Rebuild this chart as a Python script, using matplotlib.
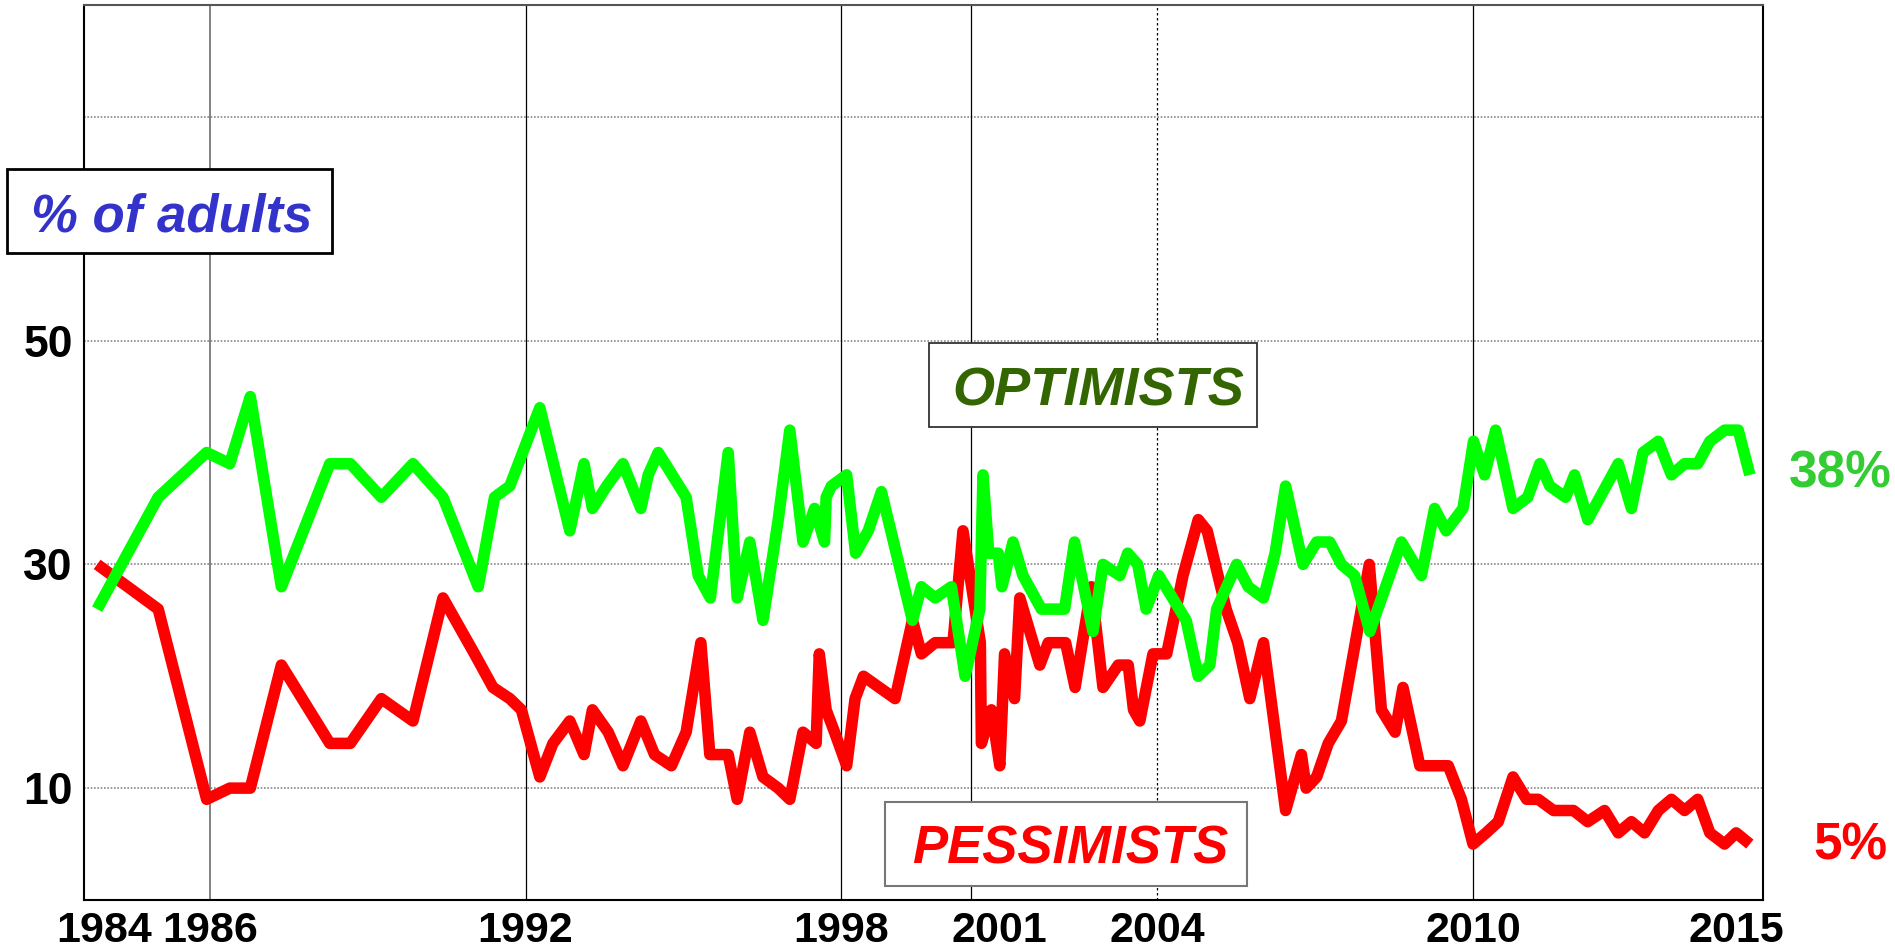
import numpy as np
import matplotlib
matplotlib.use("Agg")
import matplotlib.pyplot as plt
from matplotlib.patches import Rectangle

plt.rcParams["font.family"] = ["Liberation Sans", "DejaVu Sans"]

# survey dates (decimal years) and % of adults
opt_year = [1983.86, 1985.02, 1985.94, 1986.38, 1986.77, 1987.36, 1988.28, 1988.67,
            1989.26, 1989.86, 1990.43, 1991.10, 1991.41, 1991.70, 1992.27, 1992.84,
            1993.11, 1993.27, 1993.54, 1993.85, 1994.19, 1994.33, 1994.52, 1995.05,
            1995.28, 1995.51, 1995.85, 1996.02, 1996.26, 1996.51, 1996.80, 1997.02,
            1997.27, 1997.49, 1997.68, 1997.71, 1997.81, 1998.10, 1998.27, 1998.51,
            1998.76, 1999.35, 1999.52, 1999.78, 2000.09, 2000.35, 2000.63, 2000.69,
            2000.80, 2000.98, 2001.05, 2001.26, 2001.45, 2001.80, 2002.24, 2002.43,
            2002.78, 2002.97, 2003.29, 2003.44, 2003.63, 2003.79, 2004.03, 2004.55,
            2004.78, 2005.00, 2005.13, 2005.51, 2005.73, 2006.02, 2006.24, 2006.44,
            2006.77, 2007.03, 2007.28, 2007.50, 2007.75, 2008.04, 2008.64, 2009.02,
            2009.27, 2009.49, 2009.81, 2010.01, 2010.22, 2010.43, 2010.76, 2011.04,
            2011.27, 2011.46, 2011.76, 2011.93, 2012.18, 2012.76, 2013.01, 2013.23,
            2013.52, 2013.77, 2014.02, 2014.27, 2014.50, 2014.78, 2015.04, 2015.26]
opt_pct = [26, 36, 40, 39, 45, 28, 39, 39,
           36, 39, 36, 28, 36, 37, 44, 33,
           39, 35, 37, 39, 35, 38, 40, 36,
           29, 27, 40, 27, 32, 25, 34, 42,
           32, 35, 32, 36, 37, 38, 31, 33,
           36.5, 25, 28, 27, 28, 20, 26, 38,
           31, 31, 28, 32, 29, 26, 26, 32,
           24, 30, 29, 31, 30, 26, 29, 25,
           20, 21, 26, 30, 28, 27, 31, 37,
           30, 32, 32, 30, 29, 24, 32, 29,
           35, 33, 35, 41, 38, 42, 35, 36,
           39, 37, 36, 38, 34, 39, 35, 40,
           41, 38, 39, 39, 41, 42, 42, 38]

pess_year = [1983.86, 1985.02, 1985.94, 1986.38, 1986.77, 1987.36, 1988.28, 1988.67,
             1989.26, 1989.86, 1990.43, 1991.03, 1991.38, 1991.70, 1991.92, 1992.27,
             1992.52, 1992.84, 1993.11, 1993.27, 1993.57, 1993.85, 1994.19, 1994.45,
             1994.77, 1995.05, 1995.33, 1995.50, 1995.85, 1996.02, 1996.26, 1996.51,
             1996.80, 1997.02, 1997.27, 1997.52, 1997.58, 1997.71, 1997.87, 1998.10,
             1998.26, 1998.42, 1999.02, 1999.35, 1999.52, 1999.78, 2000.12, 2000.31,
             2000.64, 2000.66, 2000.85, 2001.01, 2001.10, 2001.29, 2001.39, 2001.77,
             2001.93, 2002.26, 2002.44, 2002.75, 2002.97, 2003.26, 2003.45, 2003.55,
             2003.67, 2003.92, 2004.18, 2004.49, 2004.78, 2004.95, 2005.31, 2005.53,
             2005.76, 2006.02, 2006.44, 2006.74, 2006.83, 2007.03, 2007.25, 2007.50,
             2008.03, 2008.26, 2008.52, 2008.67, 2008.99, 2009.53, 2009.78, 2010.00,
             2010.25, 2010.48, 2010.76, 2011.02, 2011.24, 2011.53, 2011.91, 2012.18,
             2012.50, 2012.76, 2013.01, 2013.26, 2013.52, 2013.77, 2014.02, 2014.27,
             2014.50, 2014.78, 2015.00, 2015.26]
pess_pct = [30, 26, 9, 10, 10, 21, 14, 14,
            18, 16, 27, 22, 19, 18, 17, 11,
            14, 16, 13, 17, 15, 12, 16, 13,
            12, 15, 23, 13, 13, 9, 15, 11,
            10, 9, 15, 14, 22, 17, 15, 12,
            18, 20, 18, 25, 22, 23, 23, 33,
            23, 14, 17, 12, 22, 18, 27, 21,
            23, 23, 19, 28, 19, 21, 21, 17,
            16, 22, 22, 29, 34, 33, 26, 23,
            18, 23, 8, 13, 10, 11, 14, 16,
            30, 17, 15, 19, 12, 12, 9, 5,
            6, 7, 11, 9, 9, 8, 8, 7,
            8, 6, 7, 6, 8, 9, 8, 9,
            6, 5, 6, 5]

year_ticks = [1984, 1986, 1992, 1998, 2001, 2004, 2010, 2015]
solid_vlines = [1986, 1992, 1998, 2000.46, 2010]
dashed_vlines = [2004]
y_grid = [10, 30, 50, 70]
y_labels = ["10", "30", "50", ""]

W, H = 1895, 950
fig = plt.figure(figsize=(W / 100, H / 100), dpi=100)
ax = fig.add_axes([84 / W, 1 - 900 / H, (1763 - 84) / W, (900 - 5) / H])


def fx(x):
    return x / W


def fy(y):
    return 1 - y / H


for v in y_grid:
    ax.axhline(v, color="#888888", lw=1.2, ls=(0, (1, 1)), zorder=1)
for v in solid_vlines:
    ax.axvline(v, color="#777777" if v == 1986 else "black", lw=1.3 if v == 1986 else 0.9, zorder=1)
for v in dashed_vlines:
    ax.axvline(v, color="black", lw=0.9, ls=(0, (2, 2)), zorder=1)

ax.plot(pess_year, pess_pct, color="#ff0000", lw=8.3,
        solid_joinstyle="round", solid_capstyle="butt", zorder=3)
ax.plot(opt_year, opt_pct, color="#00ff00", lw=8.3,
        solid_joinstyle="round", solid_capstyle="butt", zorder=4)

ax.set_xlim(1983.61, 2015.51)
ax.set_ylim(0, 80)
ax.set_xticks(year_ticks)
ax.set_xticklabels([str(y) for y in year_ticks], fontsize=31, fontweight="bold")
ax.set_yticks(y_grid)
ax.set_yticklabels(y_labels, fontsize=32, fontweight="bold")
ax.tick_params(length=0)
ax.tick_params(axis="x", pad=8)
ax.tick_params(axis="y", pad=8)
for name, sp in ax.spines.items():
    sp.set_color("#555555" if name == "top" else "black")
    sp.set_linewidth(1.5)


def box(x0, y0, x1, y1, ec, lw):
    fig.add_artist(Rectangle((fx(x0), fy(y1)), fx(x1) - fx(x0), fy(y0) - fy(y1),
                             transform=fig.transFigure, facecolor="white",
                             edgecolor=ec, lw=lw, zorder=10))


box(7, 169, 332, 253, "black", 2.0)
fig.text(fx(172), fy(231), "% of adults", color="#3333cc", fontsize=38,
         fontweight="bold", fontstyle="italic", ha="center", va="baseline", zorder=11)

box(929, 343, 1257, 427, "#333333", 1.3)
fig.text(fx(1098), fy(406), "OPTIMISTS", color="#336600", fontsize=39,
         fontweight="bold", fontstyle="italic", ha="center", va="baseline", zorder=11)

box(885, 802, 1247, 886, "#777777", 1.5)
fig.text(fx(1070), fy(863), "PESSIMISTS", color="#ff0000", fontsize=38,
         fontweight="bold", fontstyle="italic", ha="center", va="baseline", zorder=11)

fig.text(fx(1789), fy(487), "38%", color="#33cc33", fontsize=37,
         fontweight="bold", ha="left", va="baseline")
fig.text(fx(1813), fy(860), "5%", color="#ff0000", fontsize=37,
         fontweight="bold", ha="left", va="baseline")

fig.savefig("out.png", dpi=100)
